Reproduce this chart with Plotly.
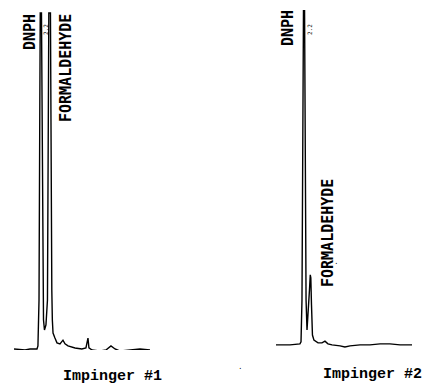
import plotly.graph_objects as go

# Impinger #1 chromatogram (retention time, min ; detector response, % of full scale)
imp1_time = [0.00, 0.81, 1.18, 1.69, 1.76, 1.84, 1.90, 1.93, 2.02, 2.06, 2.12, 2.17, 2.24, 2.35,
             2.46, 2.52, 2.56, 2.68, 2.72, 2.74, 2.78, 2.82, 2.87, 3.01, 3.16, 3.38, 3.60, 3.75,
             3.97, 4.49, 4.99, 5.29, 5.44, 5.51, 5.74, 6.32, 6.76, 7.13, 7.43, 7.79, 8.38, 8.90,
             9.26, 10.0]
imp1_resp = [0.3, 0.0, 0.3, 0.3, 1.2, 14.7, 73.5, 99.1, 99.1, 73.5, 29.4, 8.8, 5.9, 7.4,
             14.7, 58.8, 99.1, 99.1, 58.8, 18.5, 17.6, 8.8, 5.0, 3.5, 2.1, 1.8, 2.9, 1.8,
             1.2, 0.6, 0.3, 0.6, 3.5, 0.6, 0.0, -0.3, 0.0, 1.2, 0.3, -0.3, 0.0, 0.3,
             0.3, 0.0]

# Impinger #2 chromatogram
imp2_time = [0.00, 1.03, 1.76, 1.84, 1.91, 1.99, 2.02, 2.10, 2.13, 2.21, 2.28, 2.35, 2.46, 2.52,
             2.56, 2.61, 2.68, 2.79, 3.09, 3.38, 3.60, 3.82, 4.12, 4.71, 5.07, 5.44, 6.18, 6.91,
             7.65, 8.38, 9.12, 10.0]
imp2_resp = [1.5, 1.5, 1.8, 2.4, 14.7, 58.8, 100.0, 100.0, 58.8, 14.7, 5.9, 9.4, 17.6, 22.1,
             21.2, 13.2, 4.4, 2.9, 2.1, 2.1, 2.6, 1.8, 1.5, 1.2, 0.9, 1.2, 1.5, 1.5,
             1.8, 1.8, 1.5, 1.5]

panel_titles = ["Impinger #1", "Impinger #2"]
peak_names = ["DNPH", "FORMALDEHYDE"]

W, H = 424, 386

def px(x):
    return x / W

def py(y):
    return 1 - y / H

fig = go.Figure()
fig.add_trace(go.Scatter(x=imp1_time, y=imp1_resp, mode="lines",
                         line=dict(color="black", width=1.4), xaxis="x", yaxis="y",
                         hoverinfo="skip", showlegend=False))
fig.add_trace(go.Scatter(x=imp2_time, y=imp2_resp, mode="lines",
                         line=dict(color="black", width=1.4), xaxis="x2", yaxis="y2",
                         hoverinfo="skip", showlegend=False))

ydom = [py(350), py(10)]
axis_common = dict(visible=False, showgrid=False, zeroline=False, fixedrange=True)
fig.update_layout(
    width=W, height=H,
    margin=dict(l=0, r=0, t=0, b=0),
    paper_bgcolor="white", plot_bgcolor="white",
    xaxis=dict(domain=[px(14), px(150)], range=[0, 10], **axis_common),
    yaxis=dict(domain=ydom, range=[0, 100], **axis_common),
    xaxis2=dict(domain=[px(276), px(412)], range=[0, 10], anchor="y2", **axis_common),
    yaxis2=dict(domain=ydom, range=[0, 100], anchor="x2", **axis_common),
)

lab_font = dict(family="DejaVu Sans Mono", size=15, color="black", weight="bold")
title_font = dict(family="Liberation Mono", size=15, color="black", weight="bold")
small_font = dict(family="DejaVu Sans Mono", size=6, color="black")
dot_font = dict(family="DejaVu Sans", size=8, color="black")

anns = [
    (peak_names[0], 30, 32, -90, lab_font),
    (peak_names[1], 66, 68, -90, lab_font),
    (peak_names[0], 288, 28, -90, lab_font),
    (peak_names[1], 328, 233, -90, lab_font),
    (panel_titles[0], 112, 376, 0, title_font),
    (panel_titles[1], 372, 374, 0, title_font),
    ("2.2", 45, 30, -90, small_font),
    ("2.2", 309, 30, -90, small_font),
    (".", 240, 366, 0, dot_font),
    (".", 336, 261, 0, dot_font),
]
for text, x, y, ang, f in anns:
    fig.add_annotation(text=text, x=px(x), y=py(y), xref="paper", yref="paper",
                       showarrow=False, textangle=ang, font=f,
                       xanchor="center", yanchor="middle")

fig.write_html("out.html", config={"displayModeBar": False},
               post_script="document.body.style.margin='0';document.body.style.overflow='hidden';")
